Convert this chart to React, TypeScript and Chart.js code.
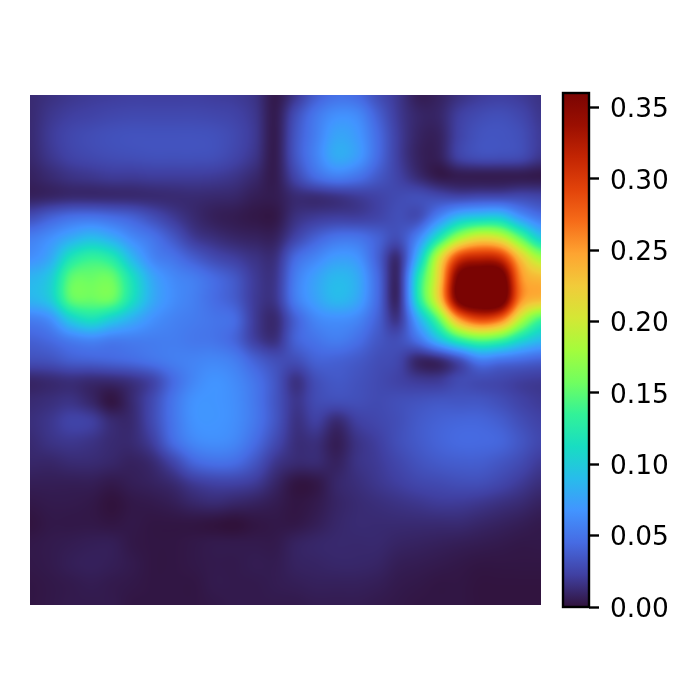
import React, { useEffect, useRef } from "react";
import { Chart, registerables } from "chart.js";

Chart.register(...registerables);

const row00 = [.012,.015,.018,.02,.021,.022,.022,.022,.022,.021,.02,.016,.004,.018,.038,.048,.045,.03,.018,.006,.008,.015,.02,.022,.02,.016];
const row01 = [.012,.018,.022,.024,.026,.027,.027,.027,.027,.026,.024,.018,.005,.03,.052,.065,.062,.04,.02,.01,.01,.022,.028,.03,.026,.018];
const row02 = [.012,.02,.026,.029,.031,.032,.032,.032,.032,.031,.027,.019,.005,.034,.056,.076,.07,.046,.022,.009,.008,.024,.032,.033,.03,.02];
const row03 = [.011,.018,.024,.027,.029,.03,.031,.031,.031,.03,.025,.017,.005,.034,.058,.08,.072,.046,.022,.008,.007,.024,.03,.03,.028,.018];
const row04 = [.008,.012,.016,.018,.02,.02,.021,.021,.021,.02,.017,.011,.005,.026,.046,.056,.05,.036,.024,.012,.004,.005,.005,.005,.005,.004];
const row05 = [.008,.01,.012,.012,.012,.012,.012,.012,.012,.011,.01,.006,.005,.012,.013,.016,.02,.024,.028,.03,.028,.026,.028,.028,.028,.025];
const row06 = [.03,.04,.048,.05,.046,.04,.03,.02,.012,.007,.005,.003,.003,.015,.02,.022,.022,.025,.03,.03,.06,.09,.1,.1,.07,.05];
const row07 = [.055,.065,.08,.09,.08,.062,.05,.035,.02,.014,.01,.008,.008,.025,.04,.05,.05,.04,.03,.06,.12,.18,.21,.2,.15,.1];
const row08 = [.065,.08,.12,.135,.125,.088,.06,.05,.038,.028,.022,.016,.015,.045,.06,.072,.068,.04,.014,.09,.2,.3,.32,.31,.23,.18];
const row09 = [.085,.1,.15,.155,.155,.115,.078,.062,.055,.045,.035,.02,.018,.055,.075,.088,.08,.045,.012,.12,.22,.37,.4,.39,.26,.235];
const row10 = [.085,.1,.15,.155,.155,.115,.08,.064,.056,.046,.037,.02,.018,.055,.075,.088,.078,.045,.012,.12,.22,.37,.4,.39,.26,.235];
const row11 = [.055,.065,.1,.115,.1,.082,.066,.058,.054,.05,.045,.02,.012,.04,.06,.065,.06,.04,.018,.08,.15,.25,.29,.27,.19,.14];
const row12 = [.04,.045,.055,.06,.055,.055,.055,.055,.052,.05,.042,.022,.015,.04,.05,.055,.048,.035,.03,.05,.09,.13,.15,.14,.11,.09];
const row13 = [.03,.032,.038,.04,.042,.045,.05,.055,.058,.06,.055,.04,.03,.03,.04,.04,.036,.03,.026,.01,.012,.03,.055,.05,.045,.04];
const row14 = [.01,.012,.014,.012,.012,.016,.025,.045,.06,.067,.062,.05,.034,.016,.03,.035,.032,.028,.024,.02,.02,.028,.028,.026,.022,.02];
const row15 = [.012,.014,.016,.01,.002,.012,.028,.05,.066,.068,.064,.052,.034,.018,.028,.03,.03,.028,.03,.032,.034,.034,.034,.03,.024,.02];
const row16 = [.014,.018,.024,.022,.012,.012,.028,.05,.066,.068,.064,.052,.034,.016,.022,.012,.022,.026,.03,.036,.04,.042,.042,.038,.03,.024];
const row17 = [.012,.016,.018,.016,.012,.012,.022,.045,.06,.064,.06,.046,.028,.014,.014,.006,.016,.022,.03,.036,.041,.044,.044,.042,.034,.026];
const row18 = [.01,.01,.012,.012,.01,.008,.012,.025,.042,.048,.046,.034,.018,.012,.012,.008,.016,.02,.026,.032,.036,.038,.038,.034,.028,.02];
const row19 = [.006,.006,.006,.006,.004,.006,.008,.012,.02,.024,.024,.02,.01,.002,.003,.01,.014,.018,.022,.026,.028,.03,.03,.026,.02,.014];
const row20 = [.003,.004,.004,.003,.0005,.003,.004,.006,.01,.012,.01,.008,.005,.002,.004,.009,.012,.014,.016,.018,.02,.02,.018,.015,.012,.008];
const row21 = [.001,.003,.003,.003,.002,.003,.002,.002,.002,.001,0,.002,.003,.003,.006,.01,.012,.012,.012,.012,.012,.012,.01,.008,.006,.004];
const row22 = [.003,.004,.005,.006,.006,.003,.002,.002,.003,.004,.004,.004,.004,.008,.01,.011,.011,.011,.009,.008,.007,.006,.005,.004,.003,.003];
const row23 = [.003,.004,.006,.007,.006,.004,.002,.002,.003,.004,.004,.005,.005,.008,.009,.01,.01,.009,.006,.005,.004,.003,.002,.002,.002,.002];
const row24 = [.002,.003,.004,.005,.004,.003,.002,.002,.002,.004,.004,.004,.005,.006,.007,.007,.007,.006,.004,.003,.002,.002,.001,.001,.001,.001];
const row25 = [.002,.003,.004,.004,.004,.002,.002,.002,.002,.003,.004,.004,.004,.004,.005,.005,.005,.004,.003,.002,.002,.002,.001,.001,.001,.001];
const gridRows = [row00,row01,row02,row03,row04,row05,row06,row07,row08,row09,row10,row11,row12,row13,row14,row15,row16,row17,row18,row19,row20,row21,row22,row23,row24,row25];

const valueMax = 0.36;
const turboAnchors = [[48,18,59],[64,64,162],[70,107,227],[66,148,255],[40,188,235],[24,221,194],[50,242,152],[113,254,95],[164,252,60],[212,231,53],[241,203,58],[254,164,49],[246,108,25],[226,67,10],[195,37,3],[155,15,1],[122,4,3]];

function turbo(t: number): number[] {
  const c = Math.max(0, Math.min(1, t)) * (turboAnchors.length - 1);
  const i = Math.min(turboAnchors.length - 2, Math.floor(c));
  const f = c - i;
  const a = turboAnchors[i];
  const b = turboAnchors[i + 1];
  return [a[0] + (b[0] - a[0]) * f, a[1] + (b[1] - a[1]) * f, a[2] + (b[2] - a[2]) * f];
}

function cubic(p0: number, p1: number, p2: number, p3: number, t: number) {
  return p1 + 0.5 * t * (p2 - p0 + t * (2 * p0 - 5 * p1 + 4 * p2 - p3 + t * (3 * (p1 - p2) + p3 - p0)));
}

function sample(rows: number[][], gx: number, gy: number) {
  const ny = rows.length;
  const nx = rows[0].length;
  const ix = Math.min(nx - 2, Math.max(0, Math.floor(gx)));
  const iy = Math.min(ny - 2, Math.max(0, Math.floor(gy)));
  const fx = gx - ix;
  const fy = gy - iy;
  const col: number[] = [];
  for (let k = -1; k <= 2; k++) {
    const r = rows[Math.max(0, Math.min(ny - 1, iy + k))];
    const at = (n: number) => r[Math.max(0, Math.min(nx - 1, n))];
    col.push(cubic(at(ix - 1), at(ix), at(ix + 1), at(ix + 2), fx));
  }
  return cubic(col[0], col[1], col[2], col[3], fy);
}

const heatPlugin = {
  id: "heat",
  beforeDatasetsDraw(chart: any) {
    const { ctx, chartArea: a, scales } = chart;
    const pts = chart.data.datasets[0].data as { x: number; y: number; v: number }[];
    const rows: number[][] = [];
    pts.forEach((p) => {
      (rows[p.y] = rows[p.y] || [])[p.x] = p.v;
    });
    const w = Math.round(a.right - a.left);
    const h = Math.round(a.bottom - a.top);
    const off = document.createElement("canvas");
    off.width = w;
    off.height = h;
    const octx = off.getContext("2d")!;
    const img = octx.createImageData(w, h);
    for (let py = 0; py < h; py++) {
      const gy = scales.y.getValueForPixel(a.top + py + 0.5);
      for (let px = 0; px < w; px++) {
        const gx = scales.x.getValueForPixel(a.left + px + 0.5);
        const c = turbo(sample(rows, gx, gy) / valueMax);
        const o = (py * w + px) * 4;
        img.data[o] = c[0];
        img.data[o + 1] = c[1];
        img.data[o + 2] = c[2];
        img.data[o + 3] = 255;
      }
    }
    octx.putImageData(img, 0, 0);
    ctx.drawImage(off, a.left, a.top);
  },
};

const framePlugin = {
  id: "frame",
  afterDraw(chart: any) {
    const { ctx, chartArea: a } = chart;
    ctx.save();
    ctx.strokeStyle = "#000";
    ctx.lineWidth = 2.4;
    ctx.strokeRect(a.left, a.top, a.right - a.left, a.bottom - a.top);
    ctx.restore();
  },
};

export default function App() {
  const heatRef = useRef<HTMLCanvasElement>(null);
  const barRef = useRef<HTMLCanvasElement>(null);

  useEffect(() => {
    const points = gridRows.flatMap((r, y) => r.map((v, x) => ({ x, y, v })));
    const heat = new Chart(heatRef.current!, {
      type: "scatter",
      data: { datasets: [{ data: points, pointRadius: 0, pointHoverRadius: 0 }] },
      options: {
        animation: false,
        responsive: false,
        events: [],
        layout: { padding: { left: 30, top: 95, right: 159, bottom: 95 } },
        plugins: { legend: { display: false }, tooltip: { enabled: false } },
        scales: {
          x: { type: "linear", min: 0, max: row00.length - 1, display: false },
          y: { type: "linear", min: 0, max: gridRows.length - 1, reverse: true, display: false },
        },
      },
      plugins: [heatPlugin],
    } as any);

    const bar = new Chart(barRef.current!, {
      type: "bar",
      data: {
        labels: ["scale"],
        datasets: [
          {
            data: [[0, valueMax]],
            barPercentage: 1,
            categoryPercentage: 1,
            backgroundColor: (c: any) => {
              const a = c.chart.chartArea;
              if (!a) return "#000";
              const g = c.chart.ctx.createLinearGradient(0, a.bottom, 0, a.top);
              turboAnchors.forEach((t, i) => g.addColorStop(i / (turboAnchors.length - 1), `rgb(${t[0]},${t[1]},${t[2]})`));
              return g;
            },
          },
        ],
      },
      options: {
        animation: false,
        responsive: false,
        events: [],
        layout: { padding: { left: 563, top: 93, right: 0, bottom: 93 } },
        plugins: { legend: { display: false }, tooltip: { enabled: false } },
        scales: {
          x: { display: false },
          y: {
            position: "right",
            min: 0,
            max: valueMax,
            afterFit: (s: any) => {
              s.width = 111;
            },
            border: { display: false },
            grid: { drawOnChartArea: false, drawTicks: true, tickLength: 10, tickWidth: 2.4, tickColor: "#000" },
            ticks: {
              stepSize: 0.05,
              includeBounds: false,
              padding: 11,
              labelOffset: 3,
              color: "#000",
              font: { family: "DejaVu Sans", size: 26.4 },
              callback: (v: any) => Number(v).toFixed(2),
            },
          },
        },
      },
      plugins: [framePlugin],
    } as any);

    return () => {
      heat.destroy();
      bar.destroy();
    };
  }, []);

  return (
    <div style={{ position: "absolute", left: 0, top: 0, width: 700, height: 700, background: "#fff" }}>
      <canvas ref={heatRef} width={700} height={700} style={{ position: "absolute", left: 0, top: 0 }} />
      <canvas ref={barRef} width={700} height={700} style={{ position: "absolute", left: 0, top: 0 }} />
    </div>
  );
}
